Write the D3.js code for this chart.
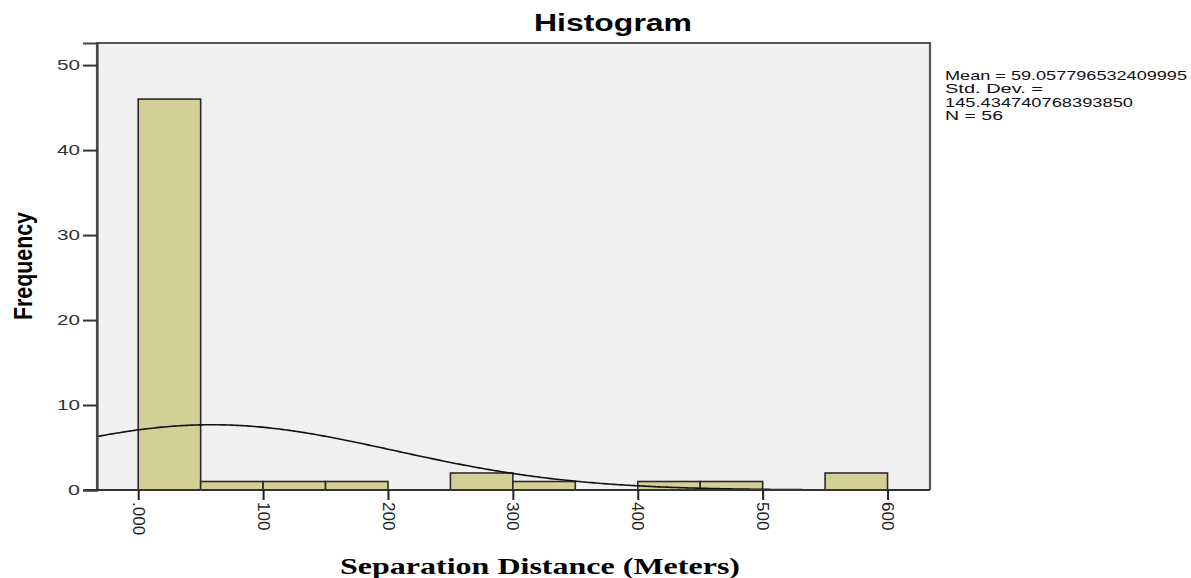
<!DOCTYPE html>
<html>
<head>
<meta charset="utf-8">
<script src="https://cdn.jsdelivr.net/npm/d3@7"></script>
<style>
  body { margin: 0; background: #fff; }
  svg { display: block; }
</style>
</head>
<body>
<svg id="chart" width="1191" height="578"></svg>
<script>
// histogram bins (meters) and counts
const binStarts = [0, 50, 100, 150, 250, 300, 400, 450, 550];
const binCounts = [46, 1, 1, 1, 2, 1, 1, 1, 2];
const binWidth = 50;

const xTicks = [0, 100, 200, 300, 400, 500, 600];
const xTickLabels = ['.000', '100', '200', '300', '400', '500', '600'];
const yTicks = [0, 10, 20, 30, 40, 50];

// stats shown in the legend, the normal curve is fitted from them
const mean = 59.057796532409995;
const stdDev = 145.434740768393850;
const n = 56;
const statLines = ['Mean = 59.057796532409995', 'Std. Dev. =', '145.434740768393850', 'N = 56'];

const svg = d3.select('#chart');

const plotL = 97, plotR = 930, plotT = 43, plotB = 490;

const x = d3.scaleLinear().domain([-33, 634]).range([plotL, plotR]);
const y = d3.scaleLinear().domain([0, 52.6]).range([plotB, plotT]);

// plot background
svg.append('rect')
	.attr('x', plotL).attr('y', plotT)
	.attr('width', plotR - plotL).attr('height', plotB - plotT)
	.attr('fill', '#f0f0f0');

// bars
svg.append('g').selectAll('rect')
	.data(binStarts.map((s, i) => ({ start: s, count: binCounts[i] })))
	.join('rect')
	.attr('x', d => x(d.start))
	.attr('y', d => y(d.count))
	.attr('width', d => x(d.start + binWidth) - x(d.start))
	.attr('height', d => y(0) - y(d.count))
	.attr('fill', '#d3cf97')
	.attr('stroke', '#2b2b2b')
	.attr('stroke-width', 1.6);

// normal curve
const curvePts = d3.range(-33, 634, 2).map(v => {
	let z = (v - mean) / stdDev;
	return [v, n * binWidth / (stdDev * Math.sqrt(2 * Math.PI)) * Math.exp(-0.5 * z * z)];
});
svg.append('path')
	.datum(curvePts)
	.attr('fill', 'none')
	.attr('stroke', '#111')
	.attr('stroke-width', 1.6)
	.attr('d', d3.line().x(d => x(d[0])).y(d => y(d[1])));

// frame (top, right)
svg.append('path')
	.attr('d', `M${plotL},${plotB}V${plotT}H${plotR}V${plotB}`)
	.attr('fill', 'none')
	.attr('stroke', '#555')
	.attr('stroke-width', 2.2);

// y axis
const yAxis = svg.append('g')
	.attr('transform', `translate(${plotL},0)`)
	.call(d3.axisLeft(y).tickValues(yTicks).tickSize(14).tickPadding(3));
yAxis.select('.domain').attr('stroke', '#444').attr('stroke-width', 2.2);
yAxis.selectAll('.tick line').attr('stroke', '#333').attr('stroke-width', 2);
yAxis.selectAll('.tick text')
	.attr('font-family', 'Arial, "Liberation Sans", sans-serif')
	.attr('font-size', 15)
	.attr('fill', '#333')
	.attr('textLength', d => d === 0 ? 12 : 23)
	.attr('lengthAdjust', 'spacingAndGlyphs');

// x axis
const xAxis = svg.append('g')
	.attr('transform', `translate(0,${plotB})`)
	.call(d3.axisBottom(x).tickValues(xTicks).tickSize(10)
		.tickFormat((d, i) => xTickLabels[i]));
xAxis.select('.domain').attr('d', `M${plotL - 12},0H${plotR}`)
	.attr('stroke', '#333').attr('stroke-width', 2);
xAxis.selectAll('.tick line').attr('stroke', '#222').attr('stroke-width', 2);
xAxis.selectAll('.tick text')
	.attr('transform', 'translate(0,12) rotate(90)')
	.attr('x', 0).attr('y', 0).attr('dy', '0.35em')
	.attr('text-anchor', 'start')
	.attr('font-family', 'Arial, "Liberation Sans", sans-serif')
	.attr('font-size', 17)
	.attr('fill', '#222');

// title
svg.append('text')
	.attr('x', 613).attr('y', 31)
	.attr('text-anchor', 'middle')
	.attr('font-family', 'Arial, "Liberation Sans", sans-serif')
	.attr('font-weight', 'bold')
	.attr('font-size', 23)
	.attr('textLength', 158)
	.attr('lengthAdjust', 'spacingAndGlyphs')
	.text('Histogram');

// y title
svg.append('text')
	.attr('transform', 'translate(32,266) rotate(-90)')
	.attr('text-anchor', 'middle')
	.attr('font-family', 'Arial, "Liberation Sans", sans-serif')
	.attr('font-weight', 'bold')
	.attr('font-size', 25)
	.attr('textLength', 108)
	.attr('lengthAdjust', 'spacingAndGlyphs')
	.text('Frequency');

// x title
svg.append('text')
	.attr('x', 540).attr('y', 574)
	.attr('text-anchor', 'middle')
	.attr('font-family', '"Times New Roman", "Liberation Serif", serif')
	.attr('font-weight', 'bold')
	.attr('font-size', 23)
	.attr('textLength', 400)
	.attr('lengthAdjust', 'spacingAndGlyphs')
	.text('Separation Distance (Meters)');

// stats box text
const statWidths = [242, 98, 188, 58];
svg.append('g').selectAll('text')
	.data(statLines)
	.join('text')
	.attr('x', 945)
	.attr('y', (d, i) => 80 + i * 13.3)
	.attr('font-family', 'Arial, "Liberation Sans", sans-serif')
	.attr('font-size', 13.5)
	.attr('fill', '#111')
	.attr('textLength', (d, i) => statWidths[i])
	.attr('lengthAdjust', 'spacingAndGlyphs')
	.text(d => d);
</script>
</body>
</html>
